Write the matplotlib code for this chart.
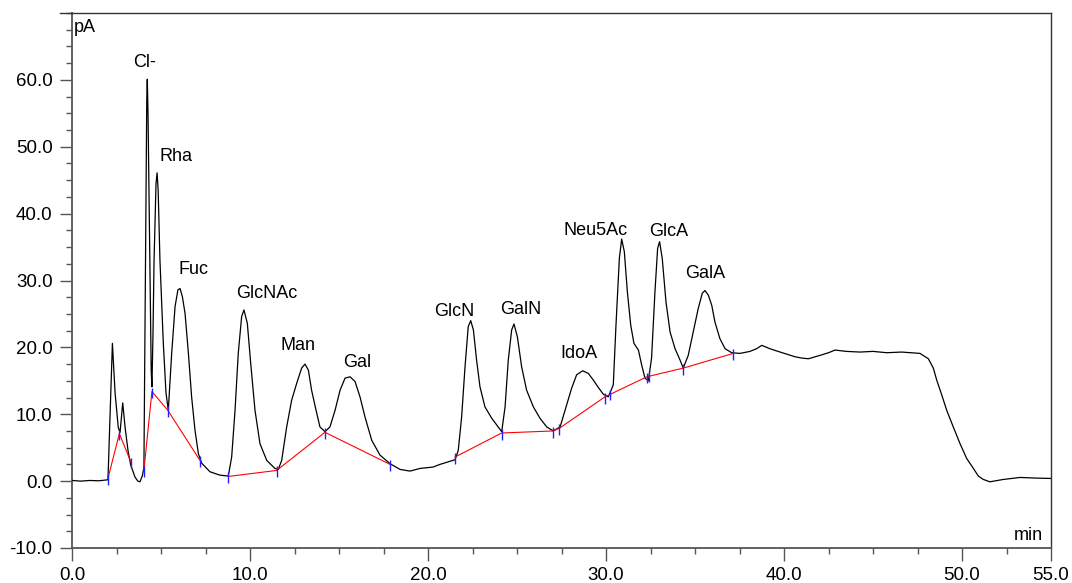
import matplotlib
matplotlib.use("Agg")
import matplotlib.pyplot as plt
import numpy as np
from matplotlib.lines import Line2D

plt.rcParams['font.family'] = ['Liberation Sans', 'DejaVu Sans']

# detector trace (min, pA)
trace_t = [0.0, 0.5, 1.0, 1.5, 2.02, 2.27, 2.42, 2.60, 2.70, 2.85, 2.98, 3.15, 3.30, 3.54, 3.70, 3.82,
           3.95, 4.04, 4.20, 4.23, 4.27, 4.45, 4.49, 4.55, 4.61, 4.72, 4.78, 4.84, 4.94, 5.13, 5.28,
           5.41, 5.60, 5.79, 5.95, 6.07, 6.20, 6.35, 6.54, 6.72, 6.91, 7.10, 7.28, 7.75, 8.30, 8.78,
           8.97, 9.16, 9.34, 9.53, 9.66, 9.85, 10.04, 10.28, 10.56, 10.94, 11.40, 11.59,
           11.78, 12.06, 12.34, 12.62, 12.90, 13.09, 13.28, 13.46, 13.71, 13.93, 14.21,
           14.49, 14.78, 15.06, 15.34, 15.62, 15.90, 16.18, 16.46, 16.84, 17.30, 17.87, 18.43,
           18.99, 19.55, 20.28, 20.67, 21.52, 21.70, 21.89, 22.08, 22.26, 22.40, 22.55, 22.73,
           22.92, 23.20, 23.58, 23.86, 24.14, 24.33, 24.51, 24.70, 24.83, 25.02, 25.26, 25.54,
           25.92, 26.29, 26.67, 27.04, 27.42, 27.70, 28.07, 28.35, 28.69, 29.01, 29.29, 29.57,
           29.85, 30.13, 30.41, 30.56, 30.75, 30.88, 31.03, 31.20, 31.39, 31.57, 31.82, 32.01,
           32.19, 32.38, 32.56, 32.75, 32.90, 33.01, 33.16, 33.37, 33.60, 33.88, 34.16, 34.34,
           34.62, 34.90, 35.18, 35.41, 35.56, 35.75, 35.94, 36.12, 36.40, 36.69, 37.06, 37.53,
           38.09, 38.46, 38.75, 39.21, 39.78, 40.62, 41.0, 41.37, 42.02, 42.5, 42.87, 43.5, 44.27,
           45.0, 45.77, 46.6, 47.64, 48.11, 48.39, 48.58, 48.86, 49.14, 49.51, 49.89, 50.26,
           50.64, 50.92, 51.2, 51.57, 52.32, 53.26, 54.2, 55.0]
trace_pa = [0.1, 0.0, 0.1, 0.05, 0.2, 20.6, 13.2, 8.0, 7.3, 11.7, 8.1, 4.5, 2.4, 0.6, 0.0, -0.1,
            0.8, 2.0, 57.0, 60.1, 55.0, 16.5, 14.1, 22.0, 33.0, 44.5, 46.1, 43.5, 33.1, 20.6, 13.2,
            10.6, 19.1, 26.1, 28.6, 28.8, 27.6, 25.1, 19.1, 12.6, 7.6, 4.1, 2.7, 1.4, 0.9, 0.75,
            3.6, 10.6, 19.1, 24.6, 25.6, 23.6, 17.6, 10.6, 5.6, 3.1, 1.9, 1.75,
            3.1, 8.1, 12.1, 14.6, 16.9, 17.5, 16.6, 13.6, 10.6, 8.1, 7.4,
            8.1, 10.6, 13.6, 15.4, 15.6, 14.9, 12.6, 9.6, 6.1, 3.9, 2.6, 1.75,
            1.5, 1.9, 2.1, 2.5, 3.2, 4.6, 9.6, 17.1, 23.1, 24.0, 22.6, 18.1,
            14.1, 11.1, 9.4, 8.4, 7.4, 11.1, 18.1, 22.6, 23.5, 21.6, 17.1, 13.6,
            11.1, 9.4, 8.1, 7.5, 8.1, 10.6, 13.9, 15.9, 16.5, 16.1, 15.1, 14.0,
            13.0, 12.6, 14.4, 23.3, 33.3, 36.2, 34.3, 28.3, 23.3, 20.6, 19.6, 17.3,
            15.4, 15.0, 18.4, 28.3, 34.8, 35.8, 33.3, 26.8, 22.3, 19.8, 18.1, 16.9,
            18.8, 22.3, 25.8, 28.1, 28.5, 27.8, 26.3, 23.8, 21.3, 19.8, 19.2, 19.1,
            19.4, 19.8, 20.3, 19.8, 19.3, 18.6, 18.4, 18.3, 18.8, 19.2, 19.6, 19.4, 19.3,
            19.4, 19.2, 19.3, 19.1, 18.3, 16.9, 15.1, 12.9, 10.6, 8.1, 5.6, 3.4,
            1.9, 0.75, 0.25, -0.1, 0.25, 0.55, 0.45, 0.4]

# integration baselines (NaN splits the segments)
base_t = [2.02, 2.66, 3.30, np.nan, 4.04, 4.49, 5.38, 7.19, np.nan, 8.78, 11.5, 14.21, 17.87,
          np.nan, 21.52, 24.14, 27.02, 27.38, 29.94, 32.29, 34.34, 37.15]
base_pa = [0.4, 7.1, 2.9, np.nan, 1.6, 13.4, 10.6, 3.1, np.nan, 0.7, 1.6, 7.3, 2.5,
           np.nan, 3.6, 7.2, 7.5, 7.9, 12.6, 15.6, 16.9, 19.1]

# peak start / end marks
mark_t = [2.02, 2.66, 3.30, 4.04, 4.49, 5.38, 7.19, 8.78, 11.5, 14.21, 17.87,
          21.52, 24.14, 27.02, 27.38, 29.94, 30.22, 32.29, 32.43, 34.34, 37.15]
mark_pa = [0.4, 7.1, 2.9, 1.6, 13.4, 10.6, 3.1, 0.7, 1.6, 7.3, 2.5,
           3.6, 7.2, 7.5, 7.9, 12.6, 13.1, 15.6, 15.8, 16.9, 19.1]

peak_names = ['Cl-', 'Rha', 'Fuc', 'GlcNAc', 'Man', 'Gal', 'GlcN', 'GalN',
              'IdoA', 'Neu5Ac', 'GlcA', 'GalA']
label_t = [4.1, 5.84, 6.8, 10.96, 12.7, 16.0, 21.5, 25.2, 28.5, 29.4, 33.5, 35.6]
label_pa = [62.6, 48.5, 31.6, 28.0, 20.3, 17.8, 25.3, 25.6, 19.1, 37.5, 37.4, 31.1]

x_ticks = [0, 10, 20, 30, 40, 50, 55]
y_ticks = [-10, 0, 10, 20, 30, 40, 50, 60]

fig = plt.figure(figsize=(10.72, 5.83), dpi=100)
ax = fig.add_axes([72/1072, 1 - 548/583, (1051 - 72)/1072, (548 - 13)/583])

ax.plot(trace_t, trace_pa, color='black', lw=0.9, zorder=3)
ax.plot(base_t, base_pa, color='#ff0000', lw=0.8, zorder=4)
ax.vlines(mark_t, np.array(mark_pa) - 1.0, np.array(mark_pa) + 0.6, color='#2020ff', lw=1.0, zorder=5)

for name, tx, ty in zip(peak_names, label_t, label_pa):
    ax.text(tx, ty, name, ha='center', va='center', fontsize=13)

ax.set_xlim(0, 55)
ax.set_ylim(-10, 70)
ax.set_xticks(x_ticks)
ax.set_xticklabels([f'{v:.1f}' for v in x_ticks])
ax.set_xticks(np.arange(0, 55.1, 2.5), minor=True)
ax.set_yticks(y_ticks)
ax.set_yticklabels([f'{v:.1f}' for v in y_ticks])
ax.set_yticks(np.arange(-10, 70.1, 2.5), minor=True)

ax.tick_params(which='major', length=9, width=1.0, color='#555555', labelsize=13.5, pad=5)
ax.tick_params(which='minor', length=4, width=1.0, color='#555555')
for side in ['left', 'bottom']:
    ax.spines[side].set_color('#555555')
    ax.spines[side].set_linewidth(1.3)
for side in ['top', 'right']:
    ax.spines[side].set_color('#333333')
    ax.spines[side].set_linewidth(1.0)

ax.text(0.1, 67.9, 'pA', ha='left', va='center', fontsize=13)
ax.text(54.55, -8.1, 'min', ha='right', va='center', fontsize=13)

# top frame line runs a little past the y axis
fig.add_artist(Line2D([60/1072, 72/1072], [1 - 13/583, 1 - 13/583], color='#333333', lw=1.0))

fig.savefig('out.png', dpi=100)
